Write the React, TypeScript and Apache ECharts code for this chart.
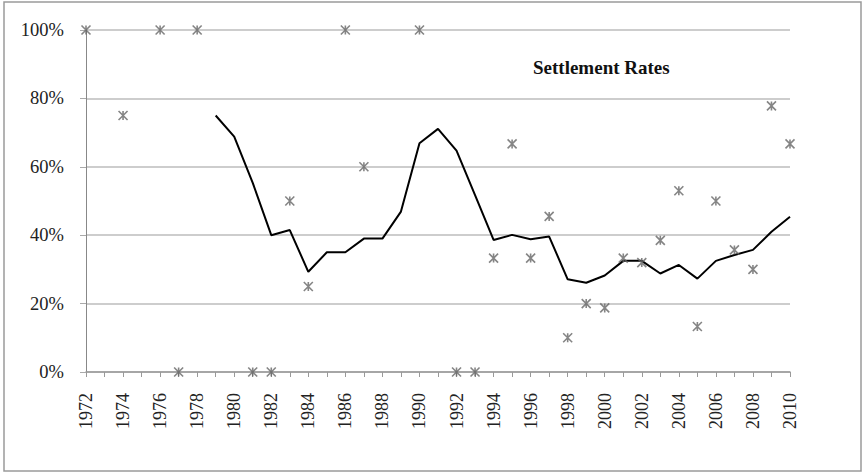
import React, { useEffect, useRef } from "react";
import * as echarts from "echarts";

const years: string[] = [];
for (let y = 1972; y <= 2010; y++) years.push(String(y));

const scatterYears = [1972, 1974, 1976, 1977, 1978, 1981, 1982, 1983, 1984, 1986, 1987, 1990, 1992, 1993, 1994, 1995, 1996, 1997, 1998, 1999, 2000, 2001, 2002, 2003, 2004, 2005, 2006, 2007, 2008, 2009, 2010];
const scatterValues = [1.0, 0.75, 1.0, 0.0, 1.0, 0.0, 0.0, 0.5, 0.25, 1.0, 0.6, 1.0, 0.0, 0.0, 0.333, 0.667, 0.333, 0.455, 0.1, 0.2, 0.1875, 0.333, 0.32, 0.385, 0.53, 0.133, 0.5, 0.357, 0.3, 0.778, 0.667];

const lineYears = [1979, 1980, 1981, 1982, 1983, 1984, 1985, 1986, 1987, 1988, 1989, 1990, 1991, 1992, 1993, 1994, 1995, 1996, 1997, 1998, 1999, 2000, 2001, 2002, 2003, 2004, 2005, 2006, 2007, 2008, 2009, 2010];
const lineValues = [0.75, 0.688, 0.553, 0.40, 0.415, 0.293, 0.35, 0.35, 0.39, 0.39, 0.469, 0.669, 0.711, 0.647, 0.517, 0.386, 0.401, 0.388, 0.396, 0.271, 0.261, 0.282, 0.325, 0.325, 0.288, 0.313, 0.273, 0.325, 0.342, 0.357, 0.41, 0.454];

const titleText = "Settlement Rates";
const serif = "'Liberation Serif', 'Times New Roman', serif";

export default function App() {
  const ref = useRef<HTMLDivElement>(null);
  useEffect(() => {
    if (!ref.current) return;
    const chart = echarts.init(ref.current, undefined, { renderer: "svg" });
    chart.setOption({
      animation: false,
      backgroundColor: "#ffffff",
      title: {
        text: titleText,
        left: 528,
        top: 53,
        textStyle: { fontFamily: serif, fontWeight: "bold", fontSize: 19, color: "#111" },
      },
      graphic: [
        {
          type: "rect",
          shape: { x: 4, y: 2, width: 857, height: 469 },
          style: { fill: "none", stroke: "#9a9a9a", lineWidth: 1.5 },
          silent: true,
        },
      ],
      grid: { left: 86, right: 74, top: 30, bottom: 101, containLabel: false },
      xAxis: {
        type: "category",
        data: years,
        boundaryGap: false,
        axisLine: { lineStyle: { color: "#999", width: 1.5 } },
        axisTick: { show: true, interval: 0, length: 5, lineStyle: { color: "#999", width: 1 } },
        axisLabel: { interval: 1, rotate: 90, fontFamily: serif, fontSize: 18, color: "#222", margin: 21 },
        splitLine: { show: false },
      },
      yAxis: {
        type: "value",
        min: 0,
        max: 1,
        interval: 0.2,
        axisLine: { show: true, lineStyle: { color: "#888", width: 1 } },
        axisTick: { show: true, length: 6, lineStyle: { color: "#aaa", width: 1 } },
        axisLabel: {
          formatter: (v: number) => Math.round(v * 100) + "%",
          fontFamily: serif,
          fontSize: 18.5,
          color: "#222",
          margin: 22,
        },
        splitLine: { show: true, lineStyle: { color: "#bdbdbd", width: 1.5 } },
      },
      series: [
        {
          type: "line",
          data: lineYears.map((y, i) => [String(y), lineValues[i]]),
          showSymbol: false,
          lineStyle: { color: "#000", width: 2 },
          z: 2,
        },
        {
          type: "scatter",
          data: scatterYears.map((y, i) => [String(y), scatterValues[i]]),
          symbol: "path://M0,0L10,10M10,0L0,10M5,0L5,10",
          symbolSize: 9,
          itemStyle: { color: "transparent", borderColor: "#666", borderWidth: 1.6 },
          z: 3,
        },
      ],
    });
    return () => chart.dispose();
  }, []);
  return <div ref={ref} style={{ position: "fixed", left: 0, top: 0, width: 864, height: 473 }} />;
}
